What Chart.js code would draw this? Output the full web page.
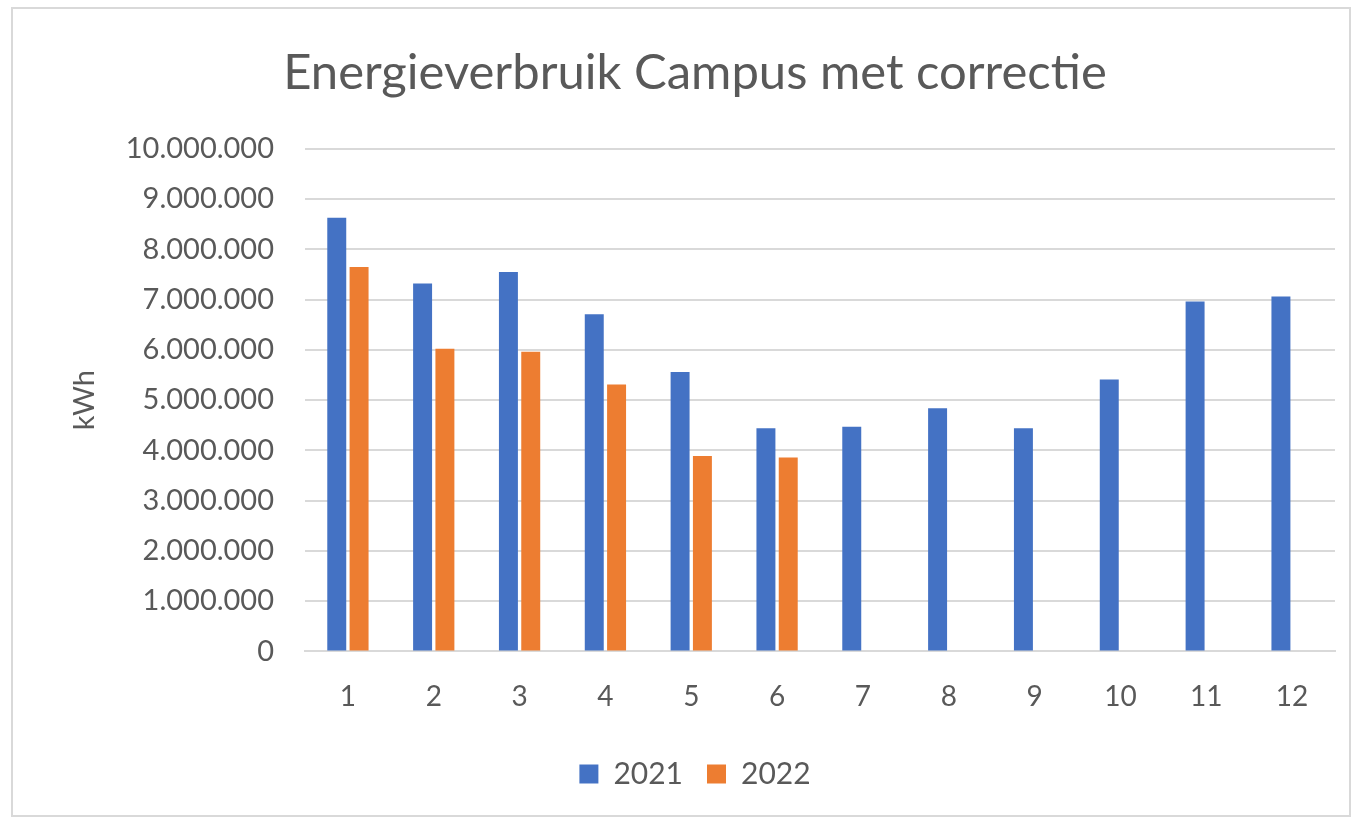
<!DOCTYPE html>
<html>
<head>
<meta charset="utf-8">
<script src="https://cdn.jsdelivr.net/npm/chart.js@4"></script>
<style>
  html, body { margin: 0; padding: 0; background: #fff; }
  #frame {
    position: absolute; left: 11px; top: 7px;
    width: 1340px; height: 810px;
    border: 2px solid #d9d9d9; box-sizing: border-box;
  }
  #wrap { position: absolute; left: 0; top: 0; width: 1352px; height: 821px; }
</style>
</head>
<body>
<div id="frame"></div>
<div id="wrap"><canvas id="chart"></canvas></div>
<script>
// data
const months = ['1', '2', '3', '4', '5', '6', '7', '8', '9', '10', '11', '12'];
const usage2021 = [8630000, 7320000, 7550000, 6710000, 5560000, 4440000, 4470000, 4840000, 4440000, 5410000, 6960000, 7060000];
const usage2022 = [7650000, 6020000, 5960000, 5310000, 3890000, 3860000, null, null, null, null, null, null];
const yTicks = [0, 1000000, 2000000, 3000000, 4000000, 5000000, 6000000, 7000000, 8000000, 9000000, 10000000];

const textColor = '#595959';
const fontFamily = 'Lato, "Open Sans", sans-serif';

// 10000000 -> 10.000.000
function fmt(v) {
  return String(Math.round(v)).replace(/\B(?=(\d{3})+(?!\d))/g, '.');
}

const ctx = document.getElementById('chart').getContext('2d');
new Chart(ctx, {
  type: 'bar',
  data: {
    labels: months,
    datasets: [
      { label: '2021', data: usage2021, backgroundColor: '#4472C4' },
      { label: '2022', data: usage2022, backgroundColor: '#ED7D31' }
    ]
  },
  options: {
    responsive: true,
    maintainAspectRatio: false,
    animation: false,
    datasets: {
      bar: { categoryPercentage: 0.52, barPercentage: 0.85 }
    },
    layout: { padding: { left: 55, right: 17, top: 0, bottom: 22 } },
    plugins: {
      title: {
        display: true,
        text: 'Energieverbruik Campus met correctie',
        color: textColor,
        font: { family: fontFamily, size: 49, weight: 'normal' },
        padding: { top: 44, bottom: 46 }
      },
      legend: {
        position: 'bottom',
        labels: {
          color: textColor,
          font: { family: fontFamily, size: 30 },
          boxWidth: 19, boxHeight: 19,
          padding: 24
        }
      },
      tooltip: { enabled: false }
    },
    scales: {
      x: {
        grid: { display: false },
        border: { color: '#d9d9d9', width: 2 },
        ticks: { color: textColor, font: { family: fontFamily, size: 28 }, padding: 21 }
      },
      y: {
        min: 0, max: 10000000,
        afterBuildTicks: (scale) => { scale.ticks = yTicks.map(v => ({ value: v })); },
        afterFit: (scale) => { scale.width = 250; },
        grid: { color: '#d9d9d9', lineWidth: 2, drawTicks: false },
        border: { display: false },
        ticks: {
          color: textColor,
          font: { family: fontFamily, size: 29 },
          padding: 31,
          callback: (v) => fmt(v)
        },
        title: {
          display: true,
          text: 'kWh',
          color: textColor,
          font: { family: fontFamily, size: 29 },
          padding: { top: 12, bottom: 0 }
        }
      }
    }
  }
});
</script>
</body>
</html>
